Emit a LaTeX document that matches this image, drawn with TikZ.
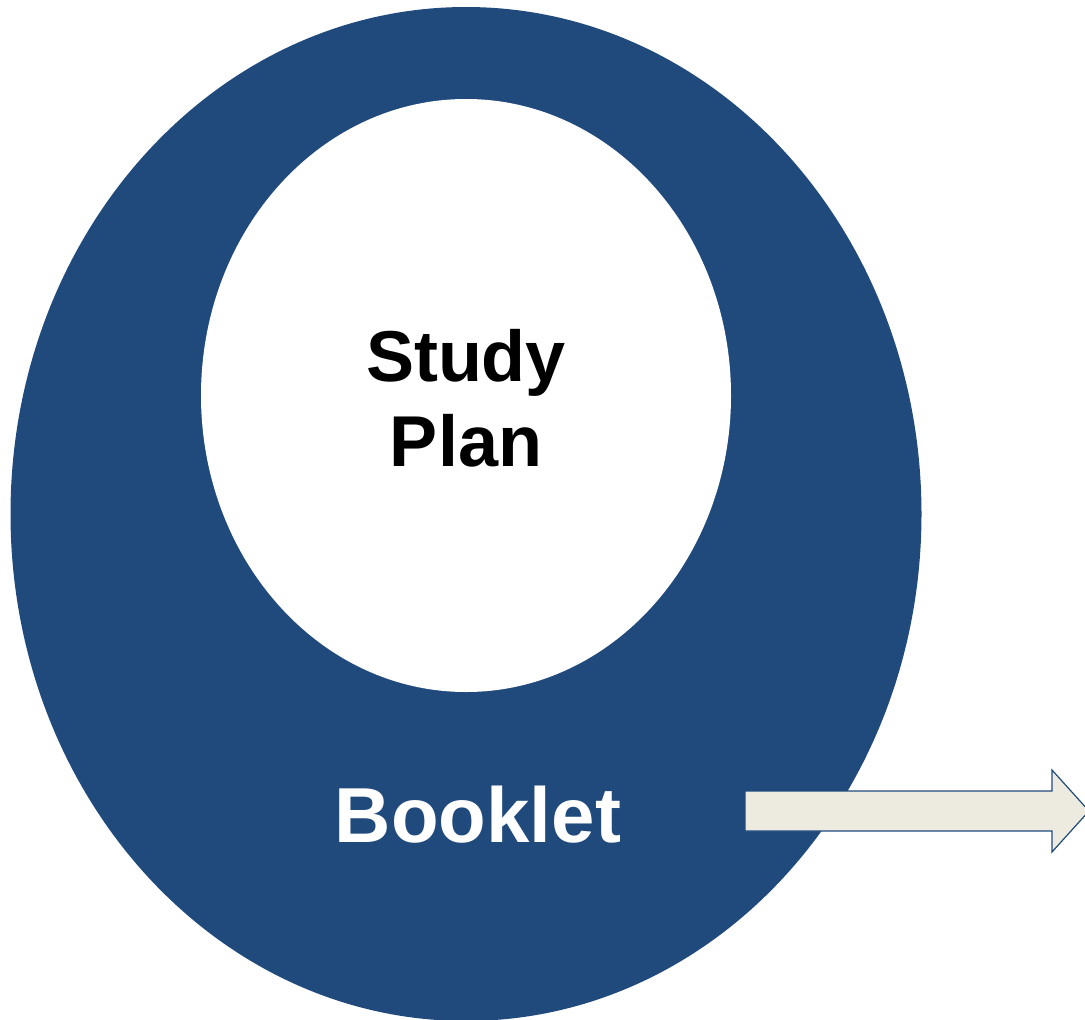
\documentclass[tikz,border=0pt]{standalone}
\usepackage{fontspec}
\setmainfont{Liberation Sans}
\definecolor{ringblue}{HTML}{204A7C}
\definecolor{arrowfill}{HTML}{EDEBE0}
\begin{document}
\begin{tikzpicture}[x=1pt,y=-1pt,
  bigtext/.style={font=\bfseries\fontsize{78}{85}\selectfont, inner sep=0pt, align=center},
  midtext/.style={font=\bfseries\fontsize{72}{85}\selectfont, inner sep=0pt, align=center}]
\useasboundingbox (0,0) rectangle (1085,1020);
\begin{scope}
\clip (0,0) rectangle (1085,1020);
\fill[ringblue] (466,514) ellipse [x radius=455.5, y radius=507];
\fill[white] (466,395.5) ellipse [x radius=265, y radius=296.5];
\draw[ringblue, line width=1.2pt, fill=arrowfill]
  (745,791) -- (1052,791) -- (1052,770) -- (1089,811) -- (1052,852) -- (1052,831) -- (745,831) -- cycle;
\end{scope}
\node[midtext, text=black, anchor=base] (study) at (466,381) {Study};
\node[midtext, text=black, anchor=base] (plan) at (466,466) {Plan};
\node[bigtext, text=white, anchor=base] (booklet) at (478,842) {Booklet};
\end{tikzpicture}
\end{document}
